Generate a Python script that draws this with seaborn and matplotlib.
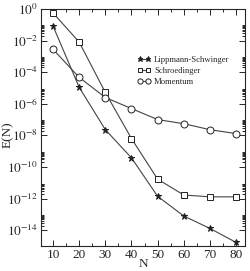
import matplotlib
matplotlib.use("Agg")
import matplotlib.pyplot as plt
import matplotlib.ticker as mticker
import seaborn as sns
import pandas as pd
import numpy as np

N = [10, 20, 30, 40, 50, 60, 70, 80]
lippmann = [8.3e-2, 1.1e-5, 2.3e-8, 3.8e-10, 1.4e-12, 8e-14, 1.3e-14, 1.7e-15]
schroed = [0.56, 8e-3, 5.2e-6, 6.3e-9, 1.7e-11, 1.7e-12, 1.3e-12, 1.3e-12]
momentum = [2.8e-3, 4.7e-5, 2.5e-6, 5e-7, 1e-7, 5.5e-8, 2.3e-8, 1.3e-8]
series_names = ["Lippmann-Schwinger", "Schroedinger", "Momentum"]

sns.set_style("ticks")
plt.rcParams['font.family'] = ['Liberation Serif', 'DejaVu Serif']
plt.rcParams['mathtext.fontset'] = 'stix'

fig = plt.figure(figsize=(2.5, 2.71), dpi=100)
ax = fig.add_axes([0.164, 0.092, 0.816, 0.875])

df = pd.DataFrame({"N": N * 3,
                   "E": lippmann + schroed + momentum,
                   "series": sum([[s] * len(N) for s in series_names], [])})

styles = {
    "Lippmann-Schwinger": dict(marker="*", ms=5, mfc="#222222"),
    "Schroedinger": dict(marker="s", ms=4.2, mfc="white"),
    "Momentum": dict(marker="o", ms=5, mfc="white"),
}
for s in series_names:
    sub = df[df.series == s]
    sns.lineplot(data=sub, x="N", y="E", ax=ax, color="#444444", lw=0.8,
                 marker=styles[s]["marker"], markersize=styles[s]["ms"],
                 markerfacecolor=styles[s]["mfc"], markeredgecolor="#222222",
                 markeredgewidth=0.7, label=s, legend=False)

ax.set_yscale("log")
ax.set_xlim(5.4, 83.4)
ax.set_ylim(1e-15, 1)
ax.set_xticks([10, 20, 30, 40, 50, 60, 70, 80])
ax.xaxis.set_minor_locator(mticker.MultipleLocator(5))
ax.set_yticks([10.0 ** (-2 * k) for k in range(8)])
ax.set_yticklabels([r"$10^{%d}$" % (-2 * k) for k in range(8)])
minors = [m * 10.0 ** (-2 * k) for k in range(1, 8) for m in range(2, 10)]
ax.yaxis.set_minor_locator(mticker.FixedLocator(minors))
ax.yaxis.set_minor_formatter(mticker.NullFormatter())
ax.tick_params(which="both", direction="in", top=True, right=True, labelsize=9.5, width=0.7)
ax.tick_params(which="major", length=4.5)
ax.tick_params(which="minor", length=2.5)
ax.tick_params(axis="x", pad=2)
ax.tick_params(axis="y", pad=2)
for sp in ax.spines.values():
    sp.set_linewidth(0.8)
ax.set_xlabel("N", fontsize=9.5)
ax.set_ylabel("E(N)", fontsize=9.5)
ax.xaxis.set_label_coords(0.5, -0.05)
ax.yaxis.set_label_coords(-0.135, 0.47)

leg = ax.legend(loc="upper left", bbox_to_anchor=(0.455, 0.815), frameon=False,
                fontsize=6.2, numpoints=2, handlelength=1.6, handletextpad=0.35,
                labelspacing=0.35, borderaxespad=0, markerscale=0.75)

fig.savefig("out.png", dpi=100)
